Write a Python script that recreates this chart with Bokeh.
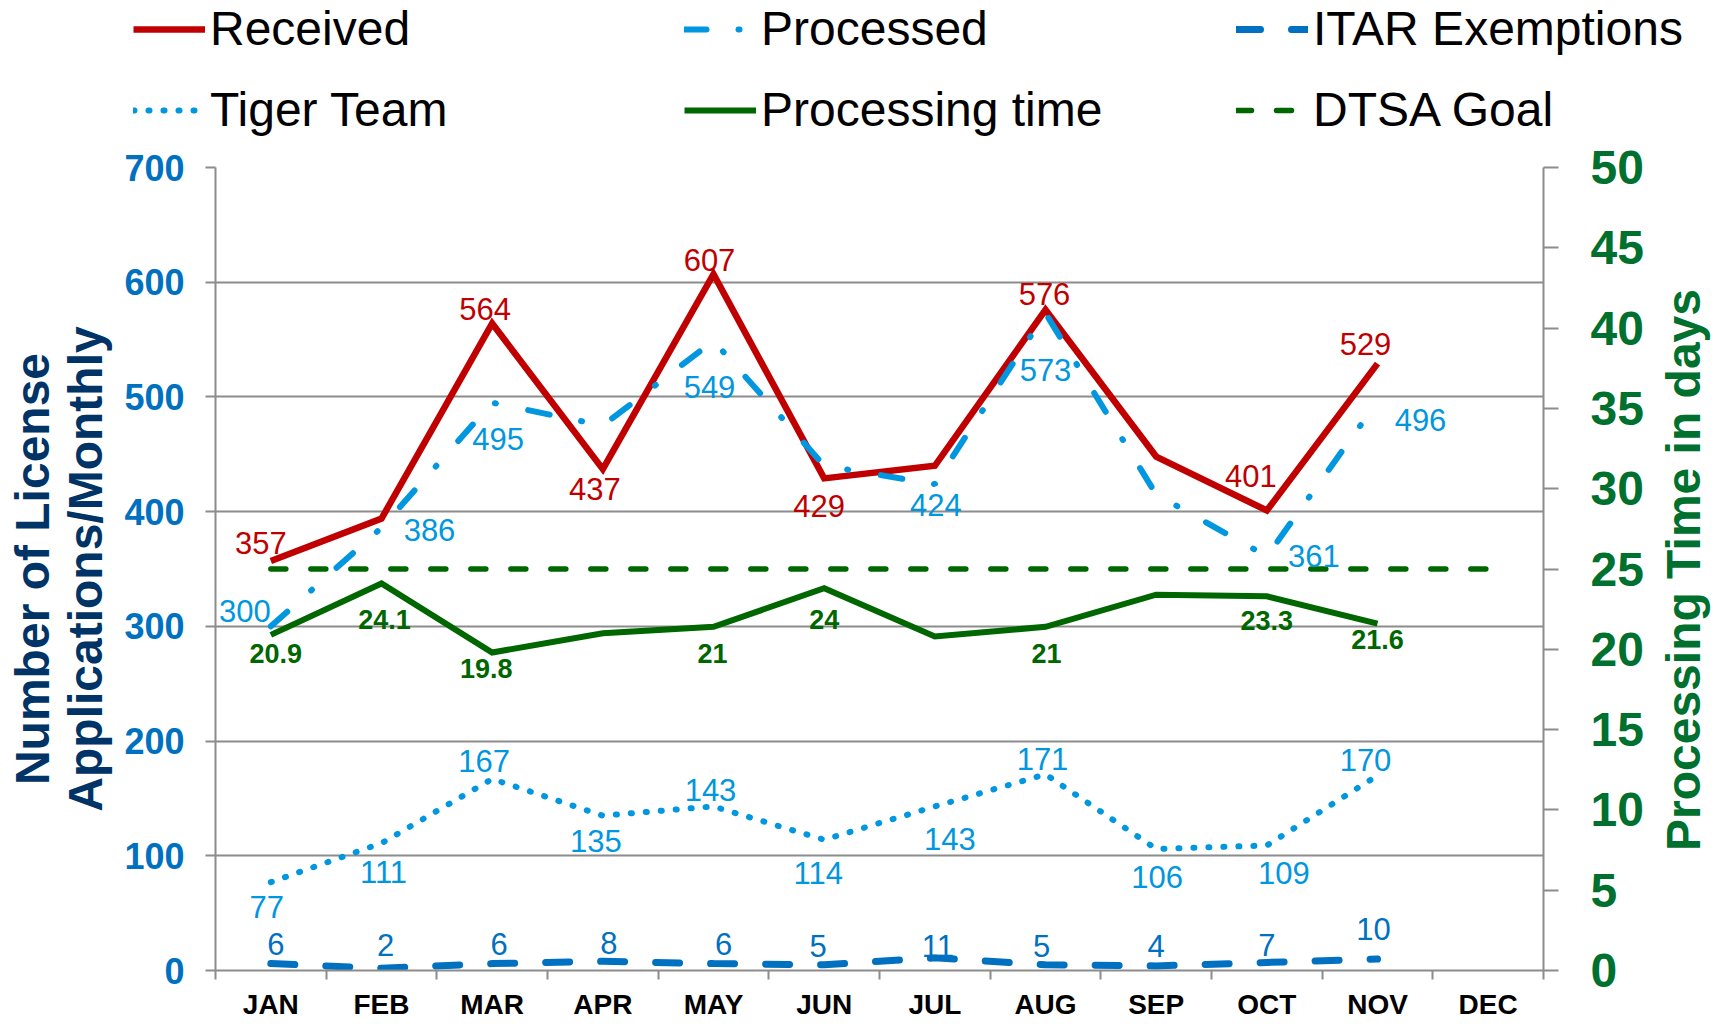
import math
from bokeh.plotting import figure
from bokeh.layouts import column, row
from bokeh.models import (Range1d, LinearAxis, FixedTicker, ColumnDataSource,
                          Legend, LegendItem, Label)
from bokeh.embed import file_html
from bokeh.resources import INLINE
from bokeh.core.properties import value

# ---------------- data ----------------
months = ["JAN", "FEB", "MAR", "APR", "MAY", "JUN", "JUL", "AUG", "SEP", "OCT", "NOV", "DEC"]
received = [357, 394, 564, 437, 607, 429, 440, 576, 448, 401, 529]
processed = [300, 386, 495, 475, 549, 440, 424, 573, 415, 361, 496]
itar_exemptions = [6, 2, 6, 8, 6, 5, 11, 5, 4, 7, 10]
tiger_team = [77, 111, 167, 135, 143, 114, 143, 171, 106, 109, 170]
processing_time = [20.9, 24.1, 19.8, 21.0, 21.4, 23.8, 20.8, 21.4, 23.4, 23.3, 21.6]
dtsa_goal = [25, 25, 25, 25, 25, 25, 25, 25, 25, 25, 25, 25]

received_labels = ["357", "", "564", "437", "607", "429", "", "576", "", "401", "529"]
processed_labels = ["300", "386", "495", "", "549", "", "424", "573", "", "361", "496"]
itar_labels = ["6", "2", "6", "8", "6", "5", "11", "5", "4", "7", "10"]
tiger_labels = ["77", "111", "167", "135", "143", "114", "143", "171", "106", "109", "170"]
time_labels = ["20.9", "24.1", "19.8", "", "21", "24", "", "21", "", "23.3", "21.6"]

left_ticks = [0, 100, 200, 300, 400, 500, 600, 700]
right_ticks = [0, 5, 10, 15, 20, 25, 30, 35, 40, 45, 50]

left_title = "Number of License\nApplications/Monthly"
right_title = "Processing Time in days"

# label placement (screen px offsets from the point)
received_off = [(-10, -18), (0, 0), (-7, -15), (-8, 20), (-4, -14), (-5, 28), (0, 0),
                (-1, -16), (0, 0), (-16, -34), (-12, -20)]
processed_off = [(-26, -15), (48, 2), (6, 36), (0, 0), (-4, 46), (0, 0), (1, 21),
                 (0, 57), (0, 0), (47, 0), (43, 18)]
itar_off = [(5, -20), (4, -23), (7, -20), (6, -18), (10, -20), (-6, -19), (3, -12),
            (-4, -19), (0, -20), (0, -17), (-4, -30)]
tiger_off = [(-4, 25), (2, 29), (-8, -18), (-7, 25), (-3, -16), (-6, 33), (15, 33),
             (-3, -15), (1, 28), (17, 28), (-12, -15)]
time_off = [(5, 19), (3, 36), (-6, 16), (0, 0), (-1, 27), (0, 31), (0, 0), (1, 27),
            (0, 0), (0, 24), (0, 16)]

FONT = "Liberation Sans"
RED = "#C00000"
LBLUE = "#0096E0"
DBLUE = "#0070C0"
GREEN = "#006600"
AXGREEN = "#00702E"
NAVY = "#003366"
GRID = "#8C8C8C"

# series styles (shared by the chart and its legend)
STYLES = {
    "Received": dict(line_color=RED, line_width=6.5, line_join="miter"),
    "Processed": dict(line_color=LBLUE, line_width=6, line_dash="22 32 1 33", line_cap="round"),
    "ITAR Exemptions": dict(line_color=DBLUE, line_width=7, line_dash="24 31", line_cap="round"),
    "Tiger Team": dict(line_color=LBLUE, line_width=6, line_dash="1 14", line_cap="round"),
    "Processing time": dict(line_color=GREEN, line_width=6, line_join="miter"),
    "DTSA Goal": dict(line_color=GREEN, line_width=5.5, line_dash="15 25", line_cap="round"),
}

W = 1711
LEG_H = 137
MAIN_H = 885
MAIN_W = 1653
SIDE_W = W - MAIN_W

xs11 = [i + 0.5 for i in range(len(received))]
xs12 = [i + 0.5 for i in range(len(dtsa_goal))]


def no_align(fig):
    if hasattr(fig, "frame_align"):
        fig.frame_align = False


# ---------------- main chart ----------------
p = figure(width=MAIN_W, height=MAIN_H, output_backend="svg", toolbar_location=None,
           x_range=Range1d(0, 12), y_range=Range1d(0, 700),
           min_border_left=215, min_border_right=MAIN_W - 1543, min_border_top=30,
           min_border_bottom=50)
p.extra_y_ranges = {"time": Range1d(0, 50)}
p.outline_line_color = None
p.background_fill_color = "white"
p.border_fill_color = "white"
no_align(p)

xa = p.xaxis[0]
xa.ticker = FixedTicker(ticks=[i + 0.5 for i in range(12)], minor_ticks=list(range(13)))
xa.major_label_overrides = {i + 0.5: m for i, m in enumerate(months)}
xa.axis_line_color = GRID
xa.axis_line_width = 2
xa.major_tick_line_color = None
xa.major_tick_out = 9
xa.major_tick_in = 0
xa.minor_tick_line_color = GRID
xa.minor_tick_line_width = 2
xa.minor_tick_out = 9
xa.minor_tick_in = 0
xa.major_label_text_font = FONT
xa.major_label_text_font_size = "28px"
xa.major_label_text_font_style = "bold"
xa.major_label_text_color = "black"
xa.major_label_standoff = 9

ya = p.yaxis[0]
ya.ticker = FixedTicker(ticks=left_ticks)
ya.axis_line_color = GRID
ya.axis_line_width = 2
ya.major_tick_line_color = GRID
ya.major_tick_line_width = 2
ya.major_tick_out = 10
ya.major_tick_in = 0
ya.minor_tick_line_color = None
ya.major_label_text_font = FONT
ya.major_label_text_font_size = "36px"
ya.major_label_text_font_style = "bold"
ya.major_label_text_color = DBLUE
ya.major_label_standoff = 21
ya.axis_label = left_title
ya.axis_label_text_font = FONT
ya.axis_label_text_font_size = "48px"
ya.axis_label_text_font_style = "bold"
ya.axis_label_text_color = NAVY
ya.axis_label_text_line_height = 1.0
ya.axis_label_standoff = 9

p.xgrid.visible = False
p.ygrid.ticker = FixedTicker(ticks=left_ticks)
p.ygrid.grid_line_color = GRID
p.ygrid.grid_line_width = 2

ra = LinearAxis(y_range_name="time", ticker=FixedTicker(ticks=right_ticks))
ra.axis_line_color = GRID
ra.axis_line_width = 2
ra.major_tick_line_color = GRID
ra.major_tick_line_width = 2
ra.major_tick_out = 15
ra.major_tick_in = 0
ra.minor_tick_line_color = None
ra.major_label_text_font = FONT
ra.major_label_text_font_size = "48px"
ra.major_label_text_font_style = "bold"
ra.major_label_text_color = AXGREEN
ra.major_label_standoff = 32
p.add_layout(ra, "right")

p.line(xs11, received, **STYLES["Received"])
p.line(xs11, processed, **STYLES["Processed"])
p.line(xs11, itar_exemptions, **STYLES["ITAR Exemptions"])
p.line(xs11, tiger_team, **STYLES["Tiger Team"])
p.line(xs11, processing_time, y_range_name="time", **STYLES["Processing time"])
p.line(xs12, dtsa_goal, y_range_name="time", **STYLES["DTSA Goal"])


def add_labels(vals, labels, offs, color, size, bold=False, range_name=None):
    d = dict(x=[], y=[], t=[], dx=[], dy=[])
    for x, v, t, (dx, dy) in zip(xs11, vals, labels, offs):
        if t:
            d["x"].append(x)
            d["y"].append(v)
            d["t"].append(t)
            d["dx"].append(dx)
            d["dy"].append(dy)
    kw = {}
    if range_name:
        kw["y_range_name"] = range_name
    p.text(x="x", y="y", text="t", x_offset="dx", y_offset="dy",
           source=ColumnDataSource(d), text_font=value(FONT),
           text_font_size=value(size), text_color=color,
           text_font_style="bold" if bold else "normal",
           text_align="center", text_baseline="middle", **kw)


add_labels(received, received_labels, received_off, RED, "31px")
add_labels(processed, processed_labels, processed_off, LBLUE, "31px")
add_labels(itar_exemptions, itar_labels, itar_off, DBLUE, "31px")
add_labels(tiger_team, tiger_labels, tiger_off, LBLUE, "31px")
add_labels(processing_time, time_labels, time_off, GREEN, "27px", bold=True, range_name="time")


def blank_figure(width, height):
    f = figure(width=width, height=height, output_backend="svg", toolbar_location=None,
               x_range=Range1d(0, width), y_range=Range1d(0, height),
               x_axis_location=None, y_axis_location=None,
               min_border_left=0, min_border_right=0, min_border_top=0,
               min_border_bottom=0)
    f.outline_line_color = None
    f.xgrid.visible = False
    f.ygrid.visible = False
    f.background_fill_color = "white"
    f.border_fill_color = "white"
    no_align(f)
    return f


# ---------------- secondary axis title (reads bottom to top) ----------------
side = blank_figure(SIDE_W, MAIN_H)
side.add_layout(Label(x=1683 - MAIN_W, y=MAIN_H - 30 - 805 / 2, text=right_title,
                      angle=math.pi / 2, text_align="center", text_baseline="middle",
                      text_font=FONT, text_font_size="48px", text_font_style="bold",
                      text_color=AXGREEN))

# ---------------- legend strip above the chart ----------------
lg = blank_figure(W, LEG_H)

legend_columns = [["Received", "Tiger Team"],
                  ["Processed", "Processing time"],
                  ["ITAR Exemptions", "DTSA Goal"]]
column_left = [133, 684, 1236]

nan = float("nan")
for names, left in zip(legend_columns, column_left):
    items = []
    for name in names:
        r = lg.line(x=[nan, nan], y=[nan, nan], **STYLES[name])
        items.append(LegendItem(label=name, renderers=[r]))
    leg = Legend(items=items, location=(left, 0), orientation="vertical",
                 padding=0, margin=0, spacing=26,
                 glyph_width=72, glyph_height=50, label_height=50,
                 label_standoff=5,
                 label_text_font=FONT, label_text_font_size="48px",
                 label_text_color="black", label_text_baseline="middle",
                 border_line_color=None, background_fill_alpha=0)
    lg.add_layout(leg, "center")

open("out.html", "w").write(file_html(column(lg, row(p, side)), INLINE))
